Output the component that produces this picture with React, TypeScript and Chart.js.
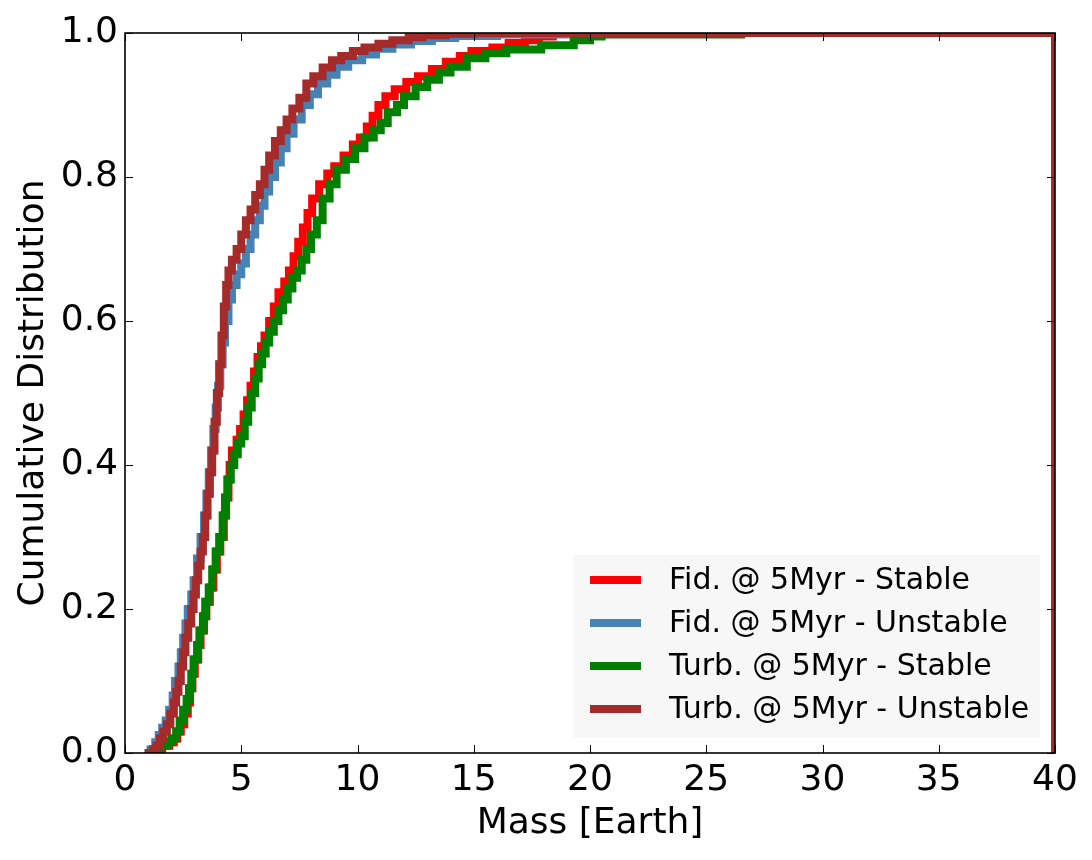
import React, { useEffect, useRef } from "react";
import { Chart, registerables } from "chart.js";

Chart.register(...registerables);

// Cumulative mass distributions: each pair is [mass (Earth masses), cumulative fraction],
// listed at the step edges of the cumulative histogram outline.
const fidStable: [number, number][] = [
  [0.9, 0], [1.3, 0.005], [1.6, 0.01], [1.9, 0.015], [2.1, 0.02], [2.25, 0.03], [2.4, 0.04],
  [2.55, 0.055], [2.7, 0.07], [2.8, 0.09], [2.9, 0.11], [3.0, 0.13], [3.15, 0.15], [3.25, 0.17],
  [3.4, 0.19], [3.5, 0.21], [3.65, 0.23], [3.8, 0.255], [3.95, 0.28], [4.1, 0.3], [4.25, 0.33],
  [4.35, 0.355], [4.45, 0.38], [4.5, 0.4], [4.6, 0.42], [4.8, 0.435], [4.95, 0.45], [5.1, 0.47],
  [5.25, 0.49], [5.4, 0.51], [5.55, 0.53], [5.7, 0.55], [5.85, 0.565], [6.0, 0.58], [6.2, 0.6],
  [6.4, 0.62], [6.6, 0.64], [6.85, 0.655], [7.05, 0.67], [7.25, 0.69], [7.45, 0.71], [7.65, 0.73],
  [7.85, 0.75], [8.05, 0.77], [8.35, 0.79], [8.7, 0.805], [9.0, 0.815], [9.4, 0.83], [9.8, 0.845],
  [10.1, 0.855], [10.4, 0.87], [10.65, 0.885], [10.9, 0.9], [11.2, 0.912], [11.6, 0.922],
  [12.1, 0.932], [12.6, 0.94], [13.2, 0.95], [13.8, 0.96], [14.4, 0.968], [14.9, 0.975],
  [15.8, 0.98], [16.5, 0.986], [17.2, 0.99], [17.8, 0.995], [18.4, 1.0], [40, 1.0], [40, 0],
];

const fidUnstable: [number, number][] = [
  [0.85, 0], [1.1, 0.005], [1.3, 0.015], [1.45, 0.025], [1.6, 0.035], [1.75, 0.045], [1.9, 0.06],
  [2.05, 0.08], [2.15, 0.1], [2.3, 0.12], [2.4, 0.14], [2.5, 0.16], [2.6, 0.18], [2.7, 0.2],
  [2.85, 0.22], [2.95, 0.24], [3.1, 0.27], [3.25, 0.3], [3.4, 0.33], [3.5, 0.36], [3.6, 0.39],
  [3.7, 0.42], [3.8, 0.45], [3.9, 0.48], [4.0, 0.51], [4.1, 0.54], [4.2, 0.57], [4.3, 0.6],
  [4.45, 0.63], [4.6, 0.65], [4.8, 0.665], [5.0, 0.68], [5.2, 0.7], [5.4, 0.72], [5.6, 0.74],
  [5.8, 0.76], [6.0, 0.78], [6.2, 0.8], [6.45, 0.82], [6.7, 0.84], [6.95, 0.86], [7.25, 0.88],
  [7.6, 0.9], [7.95, 0.915], [8.3, 0.93], [8.7, 0.942], [9.1, 0.953], [9.6, 0.962], [10.2, 0.97],
  [10.8, 0.978], [11.5, 0.984], [12.3, 0.989], [13.2, 0.993], [14.2, 0.996], [16.0, 0.998],
  [19.0, 1.0], [40, 1.0], [40, 0],
];

const turbStable: [number, number][] = [
  [0.85, 0], [1.2, 0.005], [1.5, 0.01], [1.8, 0.015], [2.0, 0.02], [2.2, 0.03], [2.35, 0.045],
  [2.5, 0.06], [2.65, 0.075], [2.75, 0.09], [2.85, 0.11], [2.95, 0.13], [3.1, 0.15], [3.2, 0.17],
  [3.35, 0.19], [3.45, 0.21], [3.6, 0.23], [3.75, 0.255], [3.9, 0.28], [4.05, 0.3], [4.2, 0.33],
  [4.3, 0.355], [4.4, 0.38], [4.55, 0.4], [4.7, 0.415], [4.85, 0.43], [5.0, 0.44], [5.15, 0.46],
  [5.3, 0.48], [5.45, 0.5], [5.6, 0.52], [5.75, 0.54], [5.9, 0.555], [6.05, 0.57], [6.2, 0.585],
  [6.4, 0.6], [6.6, 0.615], [6.8, 0.63], [7.0, 0.645], [7.2, 0.66], [7.4, 0.67], [7.6, 0.685],
  [7.8, 0.7], [8.0, 0.72], [8.25, 0.74], [8.5, 0.77], [8.8, 0.79], [9.1, 0.81], [9.5, 0.825],
  [9.9, 0.84], [10.3, 0.855], [10.7, 0.865], [11.0, 0.875], [11.3, 0.89], [11.7, 0.9],
  [12.0, 0.912], [12.5, 0.925], [13.0, 0.935], [13.5, 0.945], [14.0, 0.953], [14.7, 0.965],
  [15.5, 0.972], [16.4, 0.977], [17.9, 0.983], [19.3, 0.99], [20.0, 0.995], [20.5, 0.998],
  [26.5, 1.0], [40, 1.0], [40, 0],
];

const turbUnstable: [number, number][] = [
  [0.85, 0], [1.2, 0.005], [1.35, 0.01], [1.5, 0.02], [1.65, 0.03], [1.8, 0.04], [1.95, 0.055],
  [2.1, 0.07], [2.2, 0.085], [2.3, 0.1], [2.4, 0.12], [2.5, 0.14], [2.6, 0.16], [2.72, 0.18],
  [2.85, 0.2], [2.95, 0.22], [3.05, 0.24], [3.15, 0.26], [3.25, 0.28], [3.35, 0.3], [3.45, 0.33],
  [3.55, 0.36], [3.65, 0.39], [3.75, 0.42], [3.85, 0.46], [3.95, 0.5], [4.05, 0.54], [4.15, 0.58],
  [4.25, 0.62], [4.35, 0.65], [4.45, 0.67], [4.6, 0.685], [4.8, 0.7], [5.0, 0.72], [5.2, 0.74],
  [5.4, 0.755], [5.6, 0.775], [5.8, 0.79], [6.0, 0.81], [6.2, 0.83], [6.45, 0.85], [6.7, 0.865],
  [6.95, 0.88], [7.2, 0.895], [7.5, 0.91], [7.8, 0.93], [8.1, 0.94], [8.5, 0.952], [8.9, 0.962],
  [9.3, 0.968], [9.8, 0.975], [10.3, 0.98], [10.9, 0.985], [11.5, 0.99], [12.2, 0.994],
  [12.8, 0.997], [13.8, 0.999], [15.0, 1.0], [40, 1.0], [40, 0],
];

const seriesLabels = [
  "Fid. @ 5Myr - Stable",
  "Fid. @ 5Myr - Unstable",
  "Turb. @ 5Myr - Stable",
  "Turb. @ 5Myr - Unstable",
];
const seriesData = [fidStable, fidUnstable, turbStable, turbUnstable];
const seriesColors = ["#ff0000", "#4682b4", "#008000", "#a52a2a"];

const xTickValues = [0, 5, 10, 15, 20, 25, 30, 35, 40];
const yTickValues = [0, 0.2, 0.4, 0.6, 0.8, 1.0];
const xTitle = "Mass [Earth]";
const yTitle = "Cumulative Distribution";

const FONT = "'DejaVu Sans', 'Liberation Sans', sans-serif";

// Frame, inward ticks on all sides, axis titles and the in-axes legend.
const framePlugin = {
  id: "mplFrame",
  afterDatasetsDraw(chart: any) {
    const { ctx, chartArea: a, scales } = chart;
    const tickLen = 8;
    ctx.save();
    ctx.strokeStyle = "#000";
    ctx.lineWidth = 1;
    ctx.beginPath();
    for (const v of xTickValues) {
      const px = Math.round(scales.x.getPixelForValue(v)) + 0.5;
      ctx.moveTo(px, a.bottom);
      ctx.lineTo(px, a.bottom - tickLen);
      ctx.moveTo(px, a.top);
      ctx.lineTo(px, a.top + tickLen);
    }
    for (const v of yTickValues) {
      const py = Math.round(scales.y.getPixelForValue(v)) + 0.5;
      ctx.moveTo(a.left, py);
      ctx.lineTo(a.left + tickLen, py);
      ctx.moveTo(a.right, py);
      ctx.lineTo(a.right - tickLen, py);
    }
    ctx.stroke();
    ctx.lineWidth = 1.6;
    ctx.strokeRect(a.left, a.top, a.right - a.left, a.bottom - a.top);

    // legend box
    const lx = 573;
    const ly = 555;
    const lw = 467;
    const lh = 183;
    ctx.fillStyle = "#f7f7f7";
    ctx.fillRect(lx, ly, lw, lh);
    ctx.font = `30px ${FONT}`;
    ctx.textBaseline = "middle";
    ctx.textAlign = "left";
    seriesLabels.forEach((label, i) => {
      const cy = 580 + i * 43;
      ctx.strokeStyle = seriesColors[i];
      ctx.lineWidth = 8;
      ctx.lineCap = "butt";
      ctx.beginPath();
      ctx.moveTo(590, cy);
      ctx.lineTo(641, cy);
      ctx.stroke();
      ctx.fillStyle = "#000";
      ctx.fillText(label, 669, cy + 1);
    });

    // axis titles
    ctx.fillStyle = "#000";
    ctx.font = `36px ${FONT}`;
    ctx.textAlign = "center";
    ctx.textBaseline = "middle";
    ctx.fillText(xTitle, (a.left + a.right) / 2, 824);
    ctx.translate(34, (a.top + a.bottom) / 2);
    ctx.rotate(-Math.PI / 2);
    ctx.fillText(yTitle, 0, 0);
    ctx.restore();
  },
};

export default function App() {
  const canvasRef = useRef<HTMLCanvasElement | null>(null);

  useEffect(() => {
    const canvas = canvasRef.current;
    if (!canvas) return;
    const drawOrder = [4, 3, 2, 1]; // brown on top, then green, blue, red
    const chart = new Chart(canvas, {
      type: "line",
      data: {
        datasets: seriesData.map((pts, i) => ({
          label: seriesLabels[i],
          data: pts.map(([x, y]) => ({ x, y })),
          borderColor: seriesColors[i],
          backgroundColor: seriesColors[i],
          borderWidth: 8,
          borderJoinStyle: "miter" as const,
          borderCapStyle: "butt" as const,
          stepped: true,
          pointRadius: 0,
          fill: false,
          clip: 0,
          order: drawOrder[i],
        })),
      },
      options: {
        animation: false,
        responsive: false,
        devicePixelRatio: 1,
        layout: { padding: { left: 0, top: 33, right: 37, bottom: 0 } },
        plugins: {
          legend: { display: false },
          tooltip: { enabled: false },
        },
        scales: {
          x: {
            type: "linear",
            min: 0,
            max: 40,
            grid: { display: false, drawTicks: false },
            border: { display: false },
            ticks: {
              stepSize: 5,
              autoSkip: false,
              maxRotation: 0,
              padding: 6,
              color: "#000",
              font: { family: FONT, size: 36 },
            },
            afterFit: (s: any) => {
              s.height = 107;
            },
          },
          y: {
            type: "linear",
            min: 0,
            max: 1,
            grid: { display: false, drawTicks: false },
            border: { display: false },
            ticks: {
              stepSize: 0.2,
              padding: 7,
              color: "#000",
              font: { family: FONT, size: 36 },
              callback: (v: any) => Number(v).toFixed(1),
            },
            afterFit: (s: any) => {
              s.width = 125;
            },
          },
        },
      },
      plugins: [framePlugin],
    });
    return () => chart.destroy();
  }, []);

  return (
    <div style={{ position: "absolute", left: 0, top: 0, width: 1092, height: 860, background: "#fff" }}>
      <canvas ref={canvasRef} width={1092} height={860} />
    </div>
  );
}
